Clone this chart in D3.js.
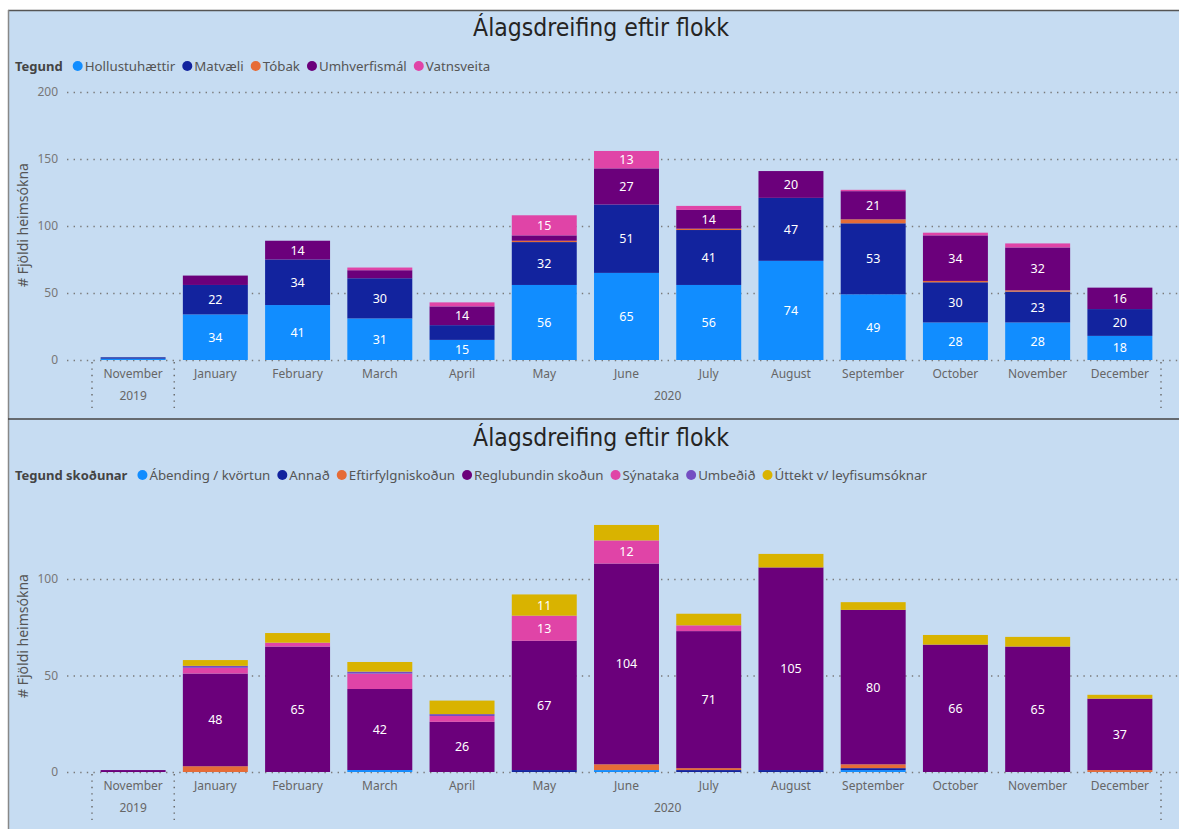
<!DOCTYPE html>
<meta charset="utf-8">
<style>
body { margin:0; background:#fff; }
svg { display:block; font-family:"Noto Sans", "Open Sans", sans-serif; }
</style>
<body>
<svg id="chart" width="1179" height="829"></svg>
<script src="https://cdn.jsdelivr.net/npm/d3@7"></script>
<script>
// flokkar á x-ás
var months = ["November","January","February","March","April","May","June","July","August","September","October","November","December"];
var years = ["2019","2020","2020","2020","2020","2020","2020","2020","2020","2020","2020","2020","2020"];

// efri mynd: Tegund
var topSeries = ["Hollustuhættir","Matvæli","Tóbak","Umhverfismál","Vatnsveita"];
var topColors = ["#118DFF","#12239E","#E66C37","#6B007B","#E044A7"];
var hollustuhaettir = [1,34,41,31,15,56,65,56,74,49,28,28,18];
var matvaeli        = [1,22,34,30,11,32,51,41,47,53,30,23,20];
var tobak           = [0, 0, 0, 0, 0, 1, 0, 1, 0, 3, 1, 1, 0];
var umhverfismal    = [0, 7,14, 6,14, 4,27,14,20,21,34,32,16];
var vatnsveita      = [0, 0, 0, 2, 3,15,13, 3, 0, 1, 2, 3, 0];
var topTicks = [0,50,100,150,200];

// neðri mynd: Tegund skoðunar
var botSeries = ["Ábending / kvörtun","Annað","Eftirfylgniskoðun","Reglubundin skoðun","Sýnataka","Umbeðið","Úttekt v/ leyfisumsóknar"];
var botColors = ["#118DFF","#12239E","#E66C37","#6B007B","#E044A7","#744EC2","#D9B300"];
var abending    = [0, 0, 0, 1, 0, 0, 1, 0, 0, 1, 0, 0, 0];
var annad       = [0, 0, 0, 0, 0, 1, 0, 1, 1, 1, 0, 0, 0];
var eftirfylgni = [0, 3, 0, 0, 0, 0, 3, 1, 0, 2, 0, 0, 1];
var reglubundin = [1,48,65,42,26,67,104,71,105,80,66,65,37];
var synataka    = [0, 3, 2, 8, 3,13,12, 3, 0, 0, 0, 0, 0];
var umbedid     = [0, 1, 0, 1, 1, 0, 0, 0, 0, 0, 0, 0, 0];
var uttekt      = [0, 3, 5, 5, 7,11, 8, 6, 7, 4, 5, 5, 2];
var botTicks = [0,50,100];

var svg = d3.select("#chart");

// bakgrunnur og rammar
svg.append("rect").attr("x",8).attr("y",10).attr("width",1171).attr("height",819).attr("fill","#c6dcf2");
svg.append("line").attr("x1",8).attr("x2",1179).attr("y1",10.5).attr("y2",10.5).attr("stroke","#555").attr("stroke-width",1.5);
svg.append("line").attr("x1",8.5).attr("x2",8.5).attr("y1",10).attr("y2",829).attr("stroke","#888").attr("stroke-width",1.5);
svg.append("line").attr("x1",8).attr("x2",1179).attr("y1",419).attr("y2",419).attr("stroke","#444").attr("stroke-width",1.5);

function drawPanel(opt) {
  var x = d3.scaleBand()
    .domain(d3.range(months.length))
    .range([92, 1161])
    .paddingInner(0.21)
    .paddingOuter(0.105);

  var y = d3.scaleLinear().domain(opt.domain).range([opt.y0, opt.yTop]);

  // titill
  svg.append("text")
    .attr("x", 601).attr("y", opt.titleY)
    .attr("text-anchor","middle")
    .attr("font-family","'DejaVu Sans Condensed', sans-serif")
    .attr("font-size", 24.5)
    .attr("fill","#252423")
    .text("Álagsdreifing eftir flokk");

  // skýringar
  var lg = svg.append("g").attr("transform","translate(15," + opt.legendY + ")");
  var lx = 0;
  var t = lg.append("text").attr("x",lx).attr("y",5).attr("font-size",13).attr("font-weight","bold").attr("fill","#444").text(opt.legendTitle);
  lx += t.node().getComputedTextLength() + 10;
  opt.series.forEach(function(s, i) {
    lg.append("circle").attr("cx", lx + 5).attr("cy", 0).attr("r", 5).attr("fill", opt.colors[i]);
    var tt = lg.append("text").attr("x", lx + 12).attr("y", 5).attr("font-size", 13.3).attr("fill","#555").text(s);
    lx += 12 + tt.node().getComputedTextLength() + 7;
  });

  // y-ás
  var yAxis = svg.append("g")
    .attr("transform","translate(67,0)")
    .call(d3.axisLeft(y).tickValues(opt.ticks).tickSize(-(1179-67)).tickPadding(9));
  yAxis.select(".domain").remove();
  yAxis.selectAll(".tick line").attr("stroke","#7a7a7a").attr("stroke-width",1.4).attr("stroke-dasharray","1.4,5.2");
  yAxis.selectAll(".tick text").attr("fill","#777").attr("font-size",12).attr("font-family","'Noto Sans', sans-serif");

  svg.append("text")
    .attr("transform","translate(28," + opt.axisTitleY + ") rotate(-90)")
    .attr("text-anchor","middle")
    .attr("font-size",14)
    .attr("fill","#555")
    .text("# Fjöldi heimsókna");

  // staflaðir stólpar
  var rows = months.map(function(m, i) {
    var r = { i: i };
    opt.series.forEach(function(s, k) { r[s] = opt.values[k][i]; });
    return r;
  });
  var stacked = d3.stack().keys(opt.series)(rows);

  var layers = svg.append("g").selectAll("g")
    .data(stacked)
    .enter().append("g")
    .attr("fill", function(d, k) { return opt.colors[k]; });

  layers.selectAll("rect")
    .data(function(d) { return d; })
    .enter().append("rect")
    .attr("x", function(d) { return x(d.data.i); })
    .attr("y", function(d) { return y(d[1]); })
    .attr("width", x.bandwidth())
    .attr("height", function(d) { return y(d[0]) - y(d[1]); });

  layers.selectAll("text")
    .data(function(d) { return d.filter(function(p) { return y(p[0]) - y(p[1]) >= 16; }); })
    .enter().append("text")
    .attr("x", function(d) { return x(d.data.i) + x.bandwidth() / 2; })
    .attr("y", function(d) { return (y(d[0]) + y(d[1])) / 2 + 4.5; })
    .attr("text-anchor","middle")
    .attr("font-size",12.5)
    .attr("fill","#fff")
    .text(function(d) { return d[1] - d[0]; });

  // x-ás: mánuðir og ár
  svg.append("g").selectAll("text")
    .data(months)
    .enter().append("text")
    .attr("x", function(d, i) { return x(i) + x.bandwidth() / 2; })
    .attr("y", opt.y0 + 18)
    .attr("text-anchor","middle")
    .attr("font-size",12)
    .attr("fill","#666")
    .text(function(d) { return d; });

  var yearGroups = d3.groups(d3.range(months.length), function(i) { return years[i]; });
  svg.append("g").selectAll("text")
    .data(yearGroups)
    .enter().append("text")
    .attr("x", function(g) {
      var a = g[1][0], b = g[1][g[1].length - 1];
      return (x(a) + x(b) + x.bandwidth()) / 2;
    })
    .attr("y", opt.y0 + 40)
    .attr("text-anchor","middle")
    .attr("font-size",12)
    .attr("fill","#666")
    .text(function(g) { return g[0]; });

  // skilalínur milli ára
  var seps = [0];
  yearGroups.forEach(function(g) { seps.push(g[1][g[1].length - 1] + 1); });
  svg.append("g").selectAll("line")
    .data(seps)
    .enter().append("line")
    .attr("x1", function(i) { return 92 + i * x.step(); })
    .attr("x2", function(i) { return 92 + i * x.step(); })
    .attr("y1", opt.y0 + 2)
    .attr("y2", opt.y0 + 48)
    .attr("stroke","#666")
    .attr("stroke-width",1.4)
    .attr("stroke-dasharray","1.4,5");
}

drawPanel({
  titleY: 36, legendY: 66, legendTitle: "Tegund",
  series: topSeries, colors: topColors,
  values: [hollustuhaettir, matvaeli, tobak, umhverfismal, vatnsveita],
  domain: [0, 200], y0: 360, yTop: 92, ticks: topTicks, axisTitleY: 225
});

drawPanel({
  titleY: 446, legendY: 475, legendTitle: "Tegund skoðunar",
  series: botSeries, colors: botColors,
  values: [abending, annad, eftirfylgni, reglubundin, synataka, umbedid, uttekt],
  domain: [0, 100], y0: 772, yTop: 579, ticks: botTicks, axisTitleY: 636
});
</script>
</body>
